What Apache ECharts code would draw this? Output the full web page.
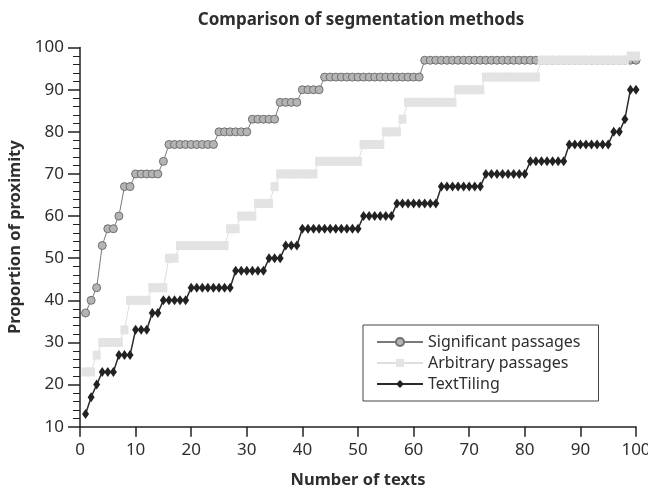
<!DOCTYPE html>
<html>
<head>
<meta charset="utf-8">
<script src="https://cdn.jsdelivr.net/npm/echarts@6/dist/echarts.min.js"></script>
<style>
  html, body { margin: 0; padding: 0; background: #fff; }
  #chart { width: 648px; height: 486px; }
</style>
</head>
<body>
<div id="chart"></div>
<script>
// proportion of proximity for text 1..100
const significant = [
    37, 40, 43, 53, 57, 57, 60, 67, 67, 70,
    70, 70, 70, 70, 73, 77, 77, 77, 77, 77,
    77, 77, 77, 77, 80, 80, 80, 80, 80, 80,
    83, 83, 83, 83, 83, 87, 87, 87, 87, 90,
    90, 90, 90, 93, 93, 93, 93, 93, 93, 93,
    93, 93, 93, 93, 93, 93, 93, 93, 93, 93,
    93, 97, 97, 97, 97, 97, 97, 97, 97, 97,
    97, 97, 97, 97, 97, 97, 97, 97, 97, 97,
    97, 97, 97, 97, 97, 97, 97, 97, 97, 97,
    97, 97, 97, 97, 97, 97, 97, 97, 97, 97
];

const arbitrary = [
    23, 23, 27, 30, 30, 30, 30, 33, 40, 40,
    40, 40, 43, 43, 43, 50, 50, 53, 53, 53,
    53, 53, 53, 53, 53, 53, 57, 57, 60, 60,
    60, 63, 63, 63, 67, 70, 70, 70, 70, 70,
    70, 70, 73, 73, 73, 73, 73, 73, 73, 73,
    77, 77, 77, 77, 80, 80, 80, 83, 87, 87,
    87, 87, 87, 87, 87, 87, 87, 90, 90, 90,
    90, 90, 93, 93, 93, 93, 93, 93, 93, 93,
    93, 93, 97, 97, 97, 97, 97, 97, 97, 97,
    97, 97, 97, 97, 97, 97, 97, 97, 98, 98
];

const textTiling = [
    13, 17, 20, 23, 23, 23, 27, 27, 27, 33,
    33, 33, 37, 37, 40, 40, 40, 40, 40, 43,
    43, 43, 43, 43, 43, 43, 43, 47, 47, 47,
    47, 47, 47, 50, 50, 50, 53, 53, 53, 57,
    57, 57, 57, 57, 57, 57, 57, 57, 57, 57,
    60, 60, 60, 60, 60, 60, 63, 63, 63, 63,
    63, 63, 63, 63, 67, 67, 67, 67, 67, 67,
    67, 67, 70, 70, 70, 70, 70, 70, 70, 70,
    73, 73, 73, 73, 73, 73, 73, 77, 77, 77,
    77, 77, 77, 77, 77, 80, 80, 83, 90, 90
];

const seriesNames = ['Significant passages', 'Arbitrary passages', 'TextTiling'];

const FONT = '"Noto Sans", "DejaVu Sans", sans-serif';

// text number starts at 1
function toPoints(values) {
    return values.map((v, i) => [i + 1, v]);
}

var myChart = echarts.init(document.getElementById('chart'));
var option;

option = {
    animation: false,
    backgroundColor: '#fff',
    textStyle: { fontFamily: FONT },
    title: {
        text: 'Comparison of segmentation methods',
        left: 356,
        textAlign: 'center',
        top: 7,
        textStyle: {
            fontFamily: FONT,
            fontSize: 17,
            fontWeight: 'bold',
            color: '#2e2e2e'
        }
    },
    legend: {
        orient: 'vertical',
        left: 363,
        top: 325,
        padding: [9, 18, 9, 13],
        itemWidth: 46,
        itemHeight: 10,
        itemGap: 5,
        borderColor: '#444',
        borderWidth: 1,
        borderRadius: 0,
        textStyle: {
            fontFamily: FONT,
            fontSize: 16,
            color: '#2e2e2e'
        },
        data: seriesNames
    },
    grid: {
        left: 80,
        right: 12,
        top: 47.6,
        bottom: 59.3,
        outerBoundsMode: 'none'
    },
    xAxis: {
        type: 'value',
        min: 0,
        max: 100,
        interval: 10,
        name: 'Number of texts',
        nameLocation: 'middle',
        nameGap: 45,
        nameTextStyle: {
            fontFamily: FONT,
            fontSize: 16.5,
            fontWeight: 'bold',
            color: '#2e2e2e'
        },
        axisLine: { show: true, lineStyle: { color: '#222', width: 1.5 } },
        axisTick: { show: true, length: 10, lineStyle: { color: '#222', width: 1.5 } },
        axisLabel: {
            margin: 15,
            fontFamily: FONT,
            fontSize: 17,
            color: '#2e2e2e',
            showMaxLabel: true
        },
        splitLine: { show: false }
    },
    yAxis: {
        type: 'value',
        min: 10,
        max: 100,
        interval: 10,
        name: 'Proportion of proximity',
        nameLocation: 'middle',
        nameGap: 55,
        nameTextStyle: {
            fontFamily: FONT,
            fontSize: 16.5,
            fontWeight: 'bold',
            color: '#2e2e2e'
        },
        axisLine: { show: true, lineStyle: { color: '#222', width: 1.5 } },
        axisTick: { show: true, length: 12, lineStyle: { color: '#222', width: 1.5 } },
        minorTick: { show: true, splitNumber: 5, length: 7, lineStyle: { color: '#222', width: 1 } },
        axisLabel: {
            margin: 16,
            fontFamily: FONT,
            fontSize: 17,
            color: '#2e2e2e'
        },
        splitLine: { show: false }
    },
    series: [
        {
            name: seriesNames[0],
            type: 'line',
            data: toPoints(significant),
            symbol: 'circle',
            symbolSize: 8,
            showAllSymbol: true,
            lineStyle: { color: '#7a7a7a', width: 1 },
            itemStyle: { color: '#b4b4b4', borderColor: '#707070', borderWidth: 1 }
        },
        {
            name: seriesNames[1],
            type: 'line',
            data: toPoints(arbitrary),
            symbol: 'rect',
            symbolSize: [8, 9],
            showAllSymbol: true,
            lineStyle: { color: '#dedede', width: 1 },
            itemStyle: { color: '#e3e3e3', borderWidth: 0 }
        },
        {
            name: seriesNames[2],
            type: 'line',
            data: toPoints(textTiling),
            symbol: 'diamond',
            symbolSize: [7, 10],
            showAllSymbol: true,
            lineStyle: { color: '#2a2a2a', width: 1.5 },
            itemStyle: { color: '#222' }
        }
    ]
};

option && myChart.setOption(option);
</script>
</body>
</html>
